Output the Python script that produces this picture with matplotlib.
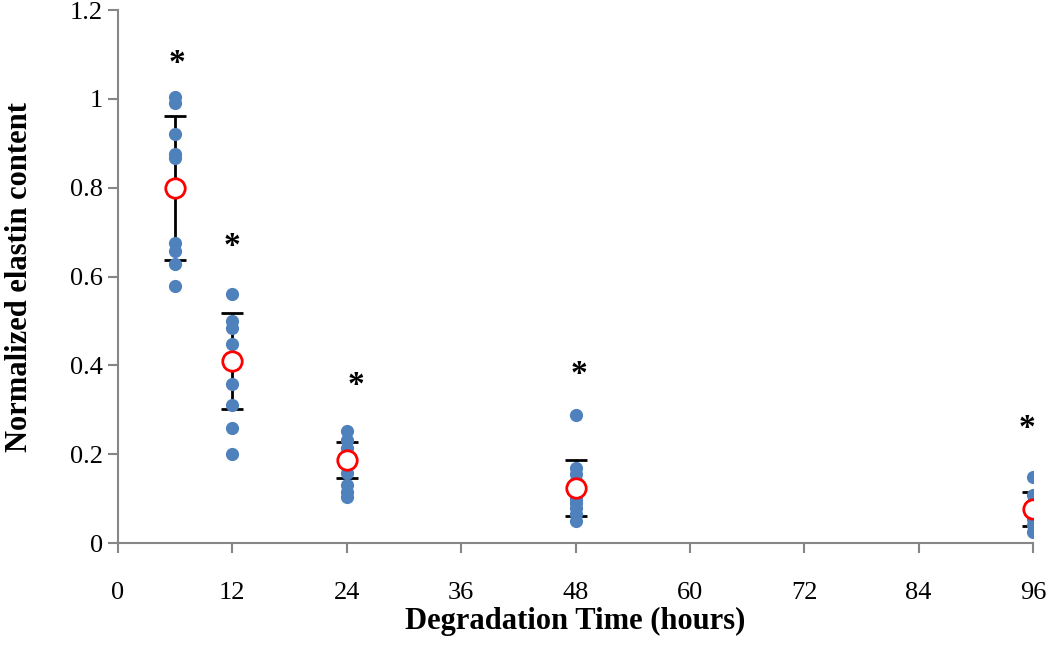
#!/usr/bin/env python3
import matplotlib.pyplot as plt

# Degradation time groups (hours)
times = [6, 12, 24, 48, 96]

# Individual normalized elastin measurements per time point
samples_6h = [1.005, 0.99, 0.92, 0.877, 0.867, 0.676, 0.658, 0.629, 0.578]
samples_12h = [0.561, 0.50, 0.485, 0.448, 0.358, 0.31, 0.26, 0.20]
samples_24h = [0.252, 0.232, 0.214, 0.187, 0.158, 0.13, 0.115, 0.104]
samples_48h = [0.288, 0.17, 0.155, 0.14, 0.12, 0.10, 0.09, 0.08, 0.065, 0.05]
samples_96h = [0.149, 0.108, 0.09, 0.07, 0.055, 0.04, 0.025]

# Group means, standard deviations and significance markers
means = [0.80, 0.41, 0.187, 0.124, 0.076]
sds = [0.162, 0.109, 0.041, 0.063, 0.038]
star_x = [6.2, 12, 25, 48.4, 95.4]
star_y = [1.08, 0.668, 0.355, 0.38, 0.258]

xticks = [0, 12, 24, 36, 48, 60, 72, 84, 96]
yticks = [0, 0.2, 0.4, 0.6, 0.8, 1, 1.2]
ytick_labels = ['0', '0.2', '0.4', '0.6', '0.8', '1', '1.2']

plt.rcParams['font.family'] = ['Liberation Serif', 'DejaVu Serif']

fig = plt.figure(figsize=(10.5, 6.45), dpi=100)
ax = fig.add_axes([0.1124, 0.158, 0.8714, 0.8264])

# Error bars (drawn first, under the points)
ax.errorbar(times, means, yerr=sds, fmt='none', ecolor='black',
            elinewidth=2, capsize=8, capthick=2, zorder=1)

# Individual samples
groups = [samples_6h, samples_12h, samples_24h, samples_48h, samples_96h]
for t, vals in zip(times, groups):
    ax.plot([t] * len(vals), vals, 'o', color='#4F81BD', markersize=9.5,
            markeredgewidth=0, zorder=2)

# Means
ax.plot(times, means, 'o', markerfacecolor='white', markeredgecolor='#FF0000',
        markeredgewidth=2, markersize=14, zorder=3)

# Significance asterisks
for sx, sy in zip(star_x, star_y):
    ax.text(sx, sy, '*', ha='center', va='center', fontsize=24,
            fontweight='bold', zorder=4)

ax.set_xlim(0, 96)
ax.set_ylim(0, 1.2)
ax.set_xticks(xticks)
ax.set_xticklabels([str(v) for v in xticks])
ax.set_yticks(yticks)
ax.set_yticklabels(ytick_labels)

for side in ['top', 'right']:
    ax.spines[side].set_visible(False)
for side in ['left', 'bottom']:
    ax.spines[side].set_color('#868686')
    ax.spines[side].set_linewidth(1.5)

ax.tick_params(axis='both', direction='out', length=7, width=1.5,
               color='#868686', labelsize=19)
ax.tick_params(axis='y', pad=4)
ax.tick_params(axis='x', pad=21)

ax.set_xlabel('Degradation Time (hours)', fontsize=22, fontweight='bold',
              labelpad=2)
ax.set_ylabel('Normalized elastin content', fontsize=22, fontweight='bold',
              labelpad=26)

plt.savefig('out.png', dpi=100)
plt.close()
